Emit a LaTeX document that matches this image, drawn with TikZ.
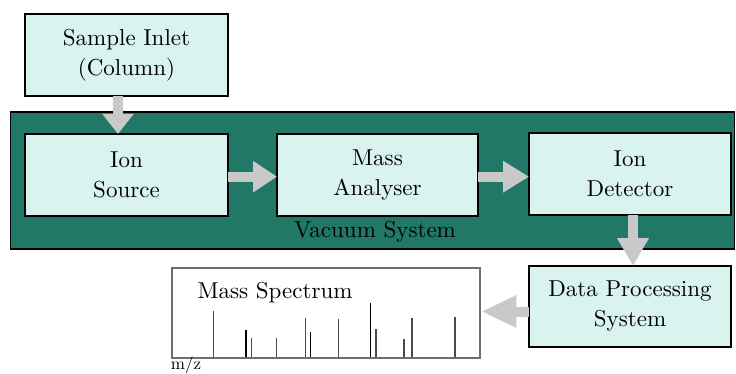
\documentclass[tikz,border=0pt]{standalone}
\usepackage{fontspec}
% one design size of Latin Modern, scaled to every size used
\setmainfont{lmroman10-regular}[Extension=.otf]
\usetikzlibrary{arrows.meta}

\definecolor{vacteal}{HTML}{217866}
\definecolor{boxmint}{HTML}{D9F3EE}
\definecolor{flowgray}{HTML}{C9C9C9}
\definecolor{framegray}{HTML}{6E6E6E}
\definecolor{peakgray}{HTML}{4A4A4A}

\tikzset{
  bigtext/.style={font=\fontsize{23}{30}\selectfont},
  stage/.style={draw=black, line width=2pt, fill=boxmint, rectangle,
    inner sep=0pt, outer sep=0pt, align=center, bigtext},
  flow/.style={draw=flowgray, line width=10pt,
    -{Triangle[width=30pt,length=#1]}},
  peak/.style={draw=peakgray, line width=1.2pt},
  peakdark/.style={draw=black, line width=1.2pt}
}

\begin{document}
\begin{tikzpicture}[x=1pt, y=-1pt]
\useasboundingbox (0,0) rectangle (736,374);

% vacuum enclosure
\node[draw=black, line width=1.5pt, fill=vacteal, rectangle, inner sep=0pt,
  minimum width=724pt, minimum height=137pt] (vacuum) at (372.5,180.5) {};
\node[bigtext, inner sep=0pt] (vaclabel) at (375,231.5) {Vacuum System};

% stages
\node[stage, minimum width=203pt, minimum height=82pt] (inlet) at (126.5,55) {Sample Inlet\\(Column)};
\node[stage, minimum width=203pt, minimum height=82pt] (source) at (126.5,175) {Ion\\Source};
\node[stage, minimum width=201pt, minimum height=82pt] (analyser) at (377.5,175) {Mass\\Analyser};
\node[stage, minimum width=202pt, minimum height=82pt] (detector) at (630,174) {Ion\\Detector};
\node[stage, minimum width=202pt, minimum height=81pt] (dataproc) at (630,306.5) {Data Processing\\System};

% spectrum panel
\node[draw=framegray, line width=2.5pt, fill=white, rectangle, inner sep=0pt,
  minimum width=308pt, minimum height=90pt] (spectrum) at (326,313) {};
\node[bigtext, inner sep=0pt] (spectitle) at (275,293) {Mass Spectrum};
\node[font=\fontsize{17}{20}\selectfont, inner sep=0pt] (mz) at (186,365.5) {m/z};

% peaks
\foreach \px/\py in {213.3/311, 251.7/337.7, 276.7/338, 305.7/318.3, 338.3/319,
                     376/328.7, 404/339, 412/318.3, 455/317.3}
  \draw[peak] (\px,357) -- (\px,\py);
\foreach \px/\py in {246/330, 310.7/332.3, 370.3/303.3}
  \draw[peakdark] (\px,357) -- (\px,\py);

% flow arrows
\draw[flow=20pt] ([xshift=-8.5pt]inlet.south) -- ([xshift=-8.5pt]source.north);
\draw[flow=24pt] (source.east) ++(0,1.7) coordinate (s2) -- (s2 -| analyser.west);
\draw[flow=26pt] (analyser.east) ++(0,1.7) coordinate (s3) -- (s3 -| detector.west);
\draw[flow=28pt] (detector.south) ++(3,0) coordinate (s4) -- (s4 |- dataproc.north);
\draw[flow=35pt] (dataproc.west) ++(0,5) coordinate (s5) -- (s5 -| spectrum.east);
\end{tikzpicture}
\end{document}
